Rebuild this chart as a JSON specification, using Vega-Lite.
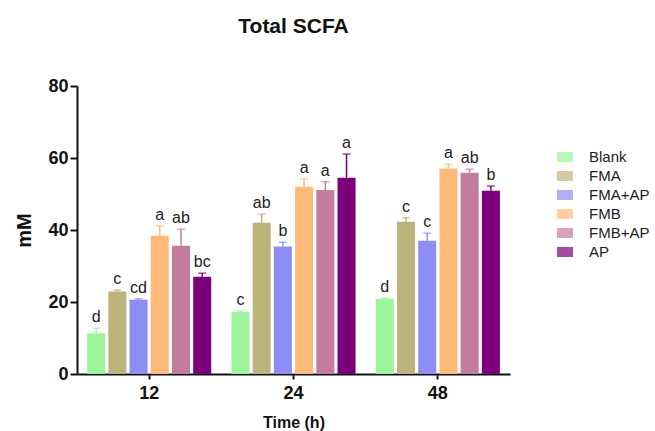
{
  "$schema": "https://vega.github.io/schema/vega-lite/v6.json",
  "width": 433,
  "height": 288,
  "autosize": {"type": "none"},
  "padding": {"left": 77, "top": 86, "right": 145, "bottom": 57},
  "background": "white",
  "title": {"text": "Total SCFA", "fontSize": 21, "fontWeight": "bold", "font": "Liberation Sans", "anchor": "middle", "offset": 40, "color": "#111"},
  "config": {
    "view": {"stroke": null},
    "font": "Liberation Sans",
    "axis": {"grid": false, "domainColor": "#111", "tickColor": "#111", "labelColor": "#111", "titleColor": "#111"}
  },
  "data": {"values": [
    {"time": "12", "group": "Blank", "value": 11.3, "upper": 12.7, "letter": "d"},
    {"time": "12", "group": "FMA", "value": 22.9, "upper": 23.3, "letter": "c"},
    {"time": "12", "group": "FMA+AP", "value": 20.6, "upper": 20.9, "letter": "cd"},
    {"time": "12", "group": "FMB", "value": 38.4, "upper": 41.1, "letter": "a"},
    {"time": "12", "group": "FMB+AP", "value": 35.6, "upper": 40.2, "letter": "ab"},
    {"time": "12", "group": "AP", "value": 27.0, "upper": 28.0, "letter": "bc"},
    {"time": "24", "group": "Blank", "value": 17.3, "upper": 17.6, "letter": "c"},
    {"time": "24", "group": "FMA", "value": 42.0, "upper": 44.4, "letter": "ab"},
    {"time": "24", "group": "FMA+AP", "value": 35.4, "upper": 36.6, "letter": "b"},
    {"time": "24", "group": "FMB", "value": 52.0, "upper": 54.2, "letter": "a"},
    {"time": "24", "group": "FMB+AP", "value": 51.1, "upper": 53.4, "letter": "a"},
    {"time": "24", "group": "AP", "value": 54.5, "upper": 61.1, "letter": "a"},
    {"time": "48", "group": "Blank", "value": 20.9, "upper": 21.2, "letter": "d"},
    {"time": "48", "group": "FMA", "value": 42.3, "upper": 43.4, "letter": "c"},
    {"time": "48", "group": "FMA+AP", "value": 37.0, "upper": 39.1, "letter": "c"},
    {"time": "48", "group": "FMB", "value": 57.1, "upper": 58.3, "letter": "a"},
    {"time": "48", "group": "FMB+AP", "value": 55.9, "upper": 56.9, "letter": "ab"},
    {"time": "48", "group": "AP", "value": 50.9, "upper": 52.2, "letter": "b"}
  ]},
  "encoding": {
    "x": {
      "field": "time", "type": "ordinal", "sort": ["12", "24", "48"],
      "scale": {"paddingInner": 0.14, "paddingOuter": 0.07},
      "axis": {"title": "Time (h)", "labelAngle": 0, "labelFontSize": 18, "labelFontWeight": "bold", "labelPadding": 5, "titleFontSize": 16, "titleFontWeight": "bold", "titlePadding": 12, "domainWidth": 2, "tickWidth": 2, "tickSize": 5}
    },
    "xOffset": {"field": "group", "type": "nominal", "sort": ["Blank", "FMA", "FMA+AP", "FMB", "FMB+AP", "AP"], "scale": {"paddingInner": 0.15}},
    "color": {
      "field": "group", "type": "nominal",
      "sort": ["Blank", "FMA", "FMA+AP", "FMB", "FMB+AP", "AP"],
      "scale": {"domain": ["Blank", "FMA", "FMA+AP", "FMB", "FMB+AP", "AP"], "range": ["#9CF59C", "#BDB47C", "#8D8DF6", "#FFBA7A", "#C47C9E", "#7C007A"]},
      "legend": {"title": null, "orient": "none", "legendX": 480, "legendY": 63, "symbolType": "M-1,-0.625H1V0.625H-1Z", "symbolSize": 256, "symbolStrokeWidth": 0, "labelFontSize": 15, "labelColor": "#222", "labelOffset": 16, "rowPadding": 3}
    }
  },
  "layer": [
    {
      "mark": {"type": "rule", "strokeWidth": 1.5},
      "encoding": {
        "y": {"field": "value", "type": "quantitative"},
        "y2": {"field": "upper"}
      }
    },
    {
      "mark": {"type": "tick", "orient": "horizontal", "size": 8, "thickness": 1.5},
      "encoding": {
        "y": {"field": "upper", "type": "quantitative"}
      }
    },
    {
      "mark": {"type": "bar"},
      "encoding": {
        "y": {
          "field": "value", "type": "quantitative",
          "scale": {"domain": [0, 80], "nice": false},
          "axis": {"title": "mM", "values": [0, 20, 40, 60, 80], "labelFontSize": 18, "labelFontWeight": "bold", "labelPadding": 2, "titleFontSize": 20, "titleFontWeight": "bold", "titlePadding": 13, "domainWidth": 2, "tickWidth": 2, "tickSize": 7}
        }
      }
    },
    {
      "mark": {"type": "text", "fontSize": 16, "baseline": "alphabetic", "dy": -6, "color": "#222"},
      "encoding": {
        "y": {"field": "upper", "type": "quantitative"},
        "text": {"field": "letter"},
        "color": {"value": "#222"}
      }
    }
  ]
}
